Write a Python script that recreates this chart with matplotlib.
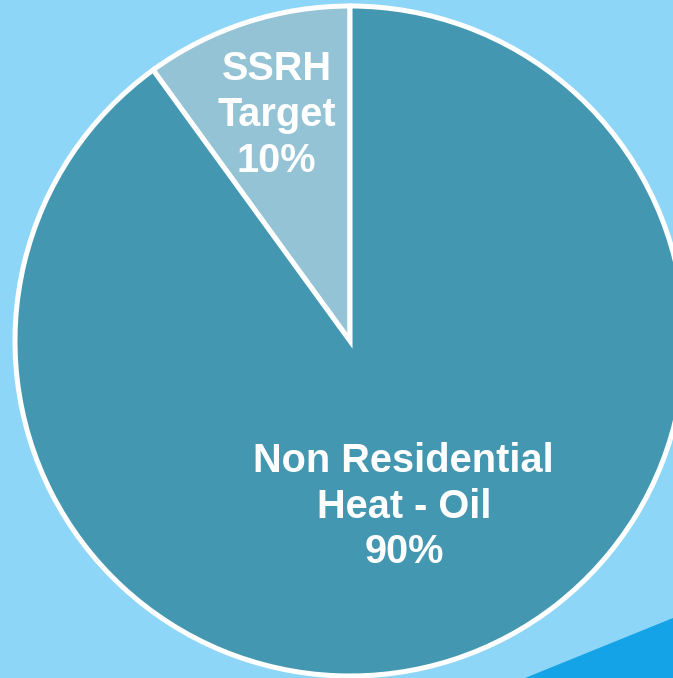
import numpy as np
import matplotlib.pyplot as plt
from matplotlib.patches import Polygon

# slice data (counter-clockwise from 12 o'clock)
labels = ['SSRH\nTarget\n10%', 'Non Residential\nHeat - Oil\n90%']
values = [10, 90]
colors = ['#94c3d5', '#4497b0']
label_dist = [0.71, 0.52]

bg = '#8ed6f8'

fig = plt.figure(figsize=(6.73, 6.78), dpi=100)
fig.patch.set_facecolor(bg)

# bright slanted band in the lower right corner (slide decoration)
fig.patches.append(Polygon([(525 / 673, 0), (1, 60 / 678), (1, 0)],
                           closed=True, transform=fig.transFigure,
                           facecolor='#15a3e8', edgecolor='none', zorder=0))

ax = fig.add_axes([0, 0, 1, 1])
ax.set_facecolor('none')

wedges, _ = ax.pie(values, colors=colors, startangle=90, counterclock=True,
                   radius=1.0, center=(0, 0),
                   wedgeprops=dict(edgecolor='white', linewidth=3.6))

for w, lab, d in zip(wedges, labels, label_dist):
    mid = np.deg2rad((w.theta1 + w.theta2) / 2)
    ax.text(d * np.cos(mid), d * np.sin(mid), lab, ha='center', va='center',
            color='white', fontsize=28.6, fontweight='bold',
            family=['Liberation Sans', 'DejaVu Sans'], linespacing=1.26)

# pie centre at (350, 341) px, radius 335 px
s = 335.0
ax.set_aspect('auto')
ax.set_xlim(-350 / s, (673 - 350) / s)
ax.set_ylim(-(678 - 341) / s, 341 / s)
ax.axis('off')

fig.savefig('out.png', dpi=100, facecolor=bg)
